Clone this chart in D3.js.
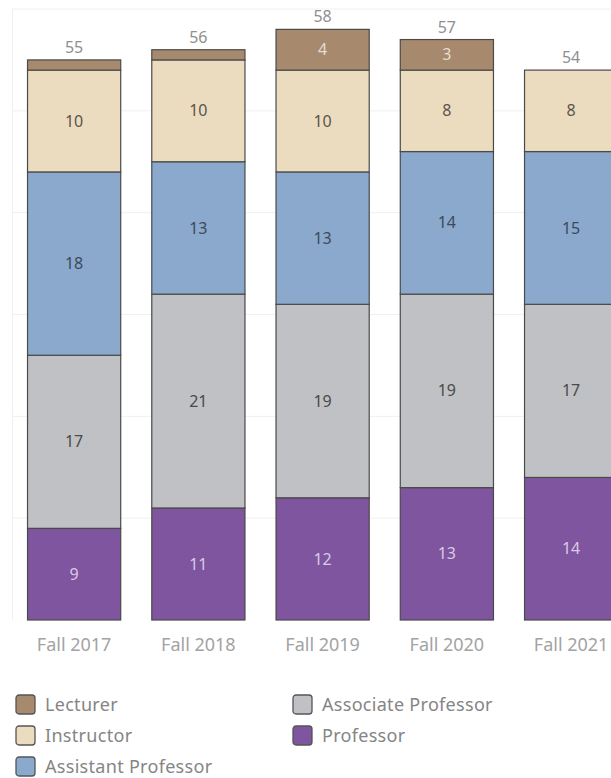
<!DOCTYPE html>
<html>
<head>
<meta charset="utf-8">
<script src="https://cdn.jsdelivr.net/npm/d3@7"></script>
<style>
  body { margin: 0; background: #fff; }
  svg text { font-family: "Noto Sans", "Open Sans", sans-serif; }
</style>
</head>
<body>
<div id="chart"></div>
<script>
const years = ['Fall 2017', 'Fall 2018', 'Fall 2019', 'Fall 2020', 'Fall 2021']
const ranks = ['Professor', 'Associate Professor', 'Assistant Professor', 'Instructor', 'Lecturer']
const professor = [9, 11, 12, 13, 14]
const associate = [17, 21, 19, 19, 17]
const assistant = [18, 13, 13, 14, 15]
const instructor = [10, 10, 10, 8, 8]
const lecturer = [1, 1, 4, 3, 0]
const legendOrder = ['Lecturer', 'Instructor', 'Assistant Professor', 'Associate Professor', 'Professor']

const width = 611
const height = 778
const padding = { top: 9, bottom: 158, left: 12 }

const rows = years.map((year, i) => ({
  year,
  Professor: professor[i],
  'Associate Professor': associate[i],
  'Assistant Professor': assistant[i],
  Instructor: instructor[i],
  Lecturer: lecturer[i],
}))

const colors = {
  Lecturer: '#a78a6e',
  Instructor: '#ecdcbf',
  'Assistant Professor': '#8aa9cd',
  'Associate Professor': '#c0c1c4',
  Professor: '#7e559e',
}
const labelColors = {
  Lecturer: '#e6dccf',
  Instructor: '#5a544c',
  'Assistant Professor': '#3d4a5c',
  'Associate Professor': '#4a4a4a',
  Professor: '#d9cbe6',
}

const x = d3
  .scaleBand()
  .domain(years)
  .range([padding.left, padding.left + 5 * 124.25])
  .paddingInner(0.25)
  .paddingOuter(0.125)

const y = d3
  .scaleLinear()
  .domain([0, 60])
  .range([height - padding.bottom, padding.top])

const series = d3.stack().keys(ranks)(rows)

const svg = d3.select('#chart').append('svg').attr('width', width).attr('height', height)

// faint gridlines
svg
  .append('g')
  .selectAll('line')
  .data(y.ticks(6).filter((d) => d > 0))
  .enter()
  .append('line')
  .attr('x1', padding.left)
  .attr('x2', width)
  .attr('y1', (d) => y(d))
  .attr('y2', (d) => y(d))
  .attr('stroke', '#f0f0f0')
  .attr('stroke-width', 1)

svg
  .append('line')
  .attr('x1', padding.left + 0.5)
  .attr('x2', padding.left + 0.5)
  .attr('y1', y(60))
  .attr('y2', y(0))
  .attr('stroke', '#f0f0f0')

const layer = svg
  .append('g')
  .selectAll('g')
  .data(series)
  .enter()
  .append('g')
  .attr('fill', (s) => colors[s.key])

layer
  .selectAll('rect')
  .data((s) => s.filter((d) => d[1] > d[0]))
  .enter()
  .append('rect')
  .attr('x', (d) => x(d.data.year))
  .attr('y', (d) => y(d[1]))
  .attr('width', x.bandwidth())
  .attr('height', (d) => y(d[0]) - y(d[1]))
  .attr('stroke', '#4a4a4a')
  .attr('stroke-width', 1.2)

// segment labels
series.forEach((s) => {
  svg
    .append('g')
    .selectAll('text')
    .data(s.filter((d) => d[1] - d[0] >= 2))
    .enter()
    .append('text')
    .attr('x', (d) => x(d.data.year) + x.bandwidth() / 2)
    .attr('y', (d) => y((d[0] + d[1]) / 2))
    .attr('dy', '0.35em')
    .attr('text-anchor', 'middle')
    .attr('font-size', 16)
    .attr('fill', labelColors[s.key])
    .text((d) => d[1] - d[0])
})

// totals
svg
  .append('g')
  .selectAll('text')
  .data(rows)
  .enter()
  .append('text')
  .attr('x', (d) => x(d.year) + x.bandwidth() / 2)
  .attr('y', (d) => y(d3.sum(ranks, (k) => d[k])) - 7)
  .attr('text-anchor', 'middle')
  .attr('font-size', 16)
  .attr('fill', '#8f8f8f')
  .text((d) => d3.sum(ranks, (k) => d[k]))

// x axis labels
const xAxis = d3.axisBottom(x).tickSize(0).tickPadding(18)
svg
  .append('g')
  .attr('transform', `translate(0,${y(0)})`)
  .call(xAxis)
  .call((g) => g.select('.domain').remove())
  .selectAll('text')
  .attr('font-size', 18)
  .attr('fill', '#a3a3a3')
  .style('font-family', '"Noto Sans", sans-serif')

// legend
const legend = svg
  .append('g')
  .selectAll('g')
  .data(legendOrder)
  .enter()
  .append('g')
  .attr('transform', (d, i) => `translate(${i < 3 ? 16 : 293},${695 + (i % 3) * 31})`)

legend
  .append('rect')
  .attr('width', 19)
  .attr('height', 19)
  .attr('rx', 3)
  .attr('fill', (d) => colors[d])
  .attr('stroke', '#555')
  .attr('stroke-width', 1.3)

legend
  .append('text')
  .attr('x', 29)
  .attr('y', 10)
  .attr('dy', '0.35em')
  .attr('font-size', 18)
  .attr('letter-spacing', 0.3)
  .attr('fill', '#858585')
  .text((d) => d)
</script>
</body>
</html>
